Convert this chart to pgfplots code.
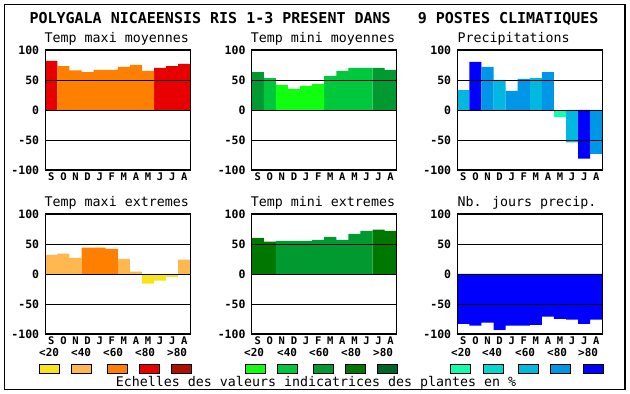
\documentclass[border=0pt]{standalone}
\usepackage{pgfplots}
\pgfplotsset{compat=1.18}
\usepackage{fontspec}
\setmainfont{DejaVu Sans Mono}
\definecolor{yel}{HTML}{F8E418}
\definecolor{lor}{HTML}{FFB850}
\definecolor{ora}{HTML}{FF8000}
\definecolor{tred}{HTML}{E80000}
\definecolor{dred}{HTML}{B01000}
\definecolor{g1}{HTML}{10FF10}
\definecolor{g2}{HTML}{00C83C}
\definecolor{g3}{HTML}{009A30}
\definecolor{g4}{HTML}{007800}
\definecolor{g5}{HTML}{006428}
\definecolor{b1}{HTML}{10FFB0}
\definecolor{b2}{HTML}{00D8D0}
\definecolor{b3}{HTML}{00B8E0}
\definecolor{b4}{HTML}{0096E8}
\definecolor{b5}{HTML}{0000FF}
\newcommand\ticksf{\fontsize{11.5}{12}\selectfont\bfseries}
\newcommand\legf{\fontsize{11}{12}\selectfont\bfseries}
\newcommand\monthf{\fontsize{10.5}{12}\selectfont\bfseries}
\newcommand\titlef{\fontsize{13.3}{15}\selectfont}
\pgfplotsset{
 panel/.style={
  scale only axis, width=145pt, height=120pt,
  xmin=-0.5, xmax=11.5, ymin=-100, ymax=100,
  ytick={-100,-50,0,50,100},
  yticklabels={-100,-50,0,50,100},
  xtick={0,...,11},
  xticklabels={S,O,N,D,J,F,M,A,M,J,J,A},
  major tick length=0pt,
  ymajorgrids, grid style={black, line width=0.9pt},
  axis on top,
  axis line style={black, line width=1.2pt},
  yticklabel style={font=\ticksf, inner sep=0pt, xshift=-6pt, anchor=east},
  xticklabel style={font=\monthf, inner sep=0pt, anchor=north, yshift=-2.5pt},
  anchor=south west,
 },
 cbar/.style={ybar, bar width=1, bar shift=0pt, draw=none, fill=#1},
}
\begin{document}
\begin{tikzpicture}[x=1pt,y=1pt]
\useasboundingbox (0,0) rectangle (630,394);
\fill[white] (0,0) rectangle (630,394);
\draw[line width=1.6pt] (4.5,4.5) rectangle (625,389.5);
\node[anchor=base, inner sep=0] at (314,370.7) {\fontsize{15}{17}\selectfont\bfseries POLYGALA NICAEENSIS RIS 1-3 PRESENT DANS\ \ \ 9 POSTES CLIMATIQUES};
% titles
\node[anchor=base west, inner sep=0] at (44.5,351) {\titlef Temp maxi moyennes};
\node[anchor=base west, inner sep=0] at (250.7,351) {\titlef Temp mini moyennes};
\node[anchor=base west, inner sep=0] at (457.3,351) {\titlef Precipitations};
\node[anchor=base west, inner sep=0] at (44.5,187) {\titlef Temp maxi extremes};
\node[anchor=base west, inner sep=0] at (250.7,187) {\titlef Temp mini extremes};
\node[anchor=base west, inner sep=0] at (457.3,187) {\titlef Nb. jours precip.};
% Panel 1
\begin{axis}[panel, at={(45.3pt,224pt)}]
\addplot[cbar=tred] coordinates {(0,82)(9,70)(10,73)(11,77)};
\addplot[cbar=ora] coordinates {(1,73)(2,66)(3,63)(4,67)(5,67)(6,72)(7,75)(8,65)};
\end{axis}
% Panel 2
\begin{axis}[panel, at={(251.7pt,224pt)}]
\addplot[cbar=g3] coordinates {(0,63)(10,70)(11,67)};
\addplot[cbar=g2] coordinates {(1,53)(6,57)(7,65)(8,70)(9,70)};
\addplot[cbar=g1] coordinates {(2,42)(3,35)(4,40)(5,43)};
\end{axis}
% Panel 3
\begin{axis}[panel, at={(457.3pt,224pt)}]
\addplot[cbar=b3] coordinates {(0,33)(3,50)(6,53)(9,-54)};
\addplot[cbar=b5] coordinates {(1,80)(10,-81)};
\addplot[cbar=b4] coordinates {(2,72)(4,32)(5,52)(7,63)(11,-73)};
\addplot[cbar=b1] coordinates {(8,-12)};
\end{axis}
% Panel 4
\begin{axis}[panel, at={(45.3pt,60pt)}]
\addplot[cbar=lor] coordinates {(0,32)(1,34)(2,27)(6,25)(7,4)(11,24)};
\addplot[cbar=ora] coordinates {(3,44)(4,44)(5,42)};
\addplot[cbar=yel] coordinates {(8,-16)(9,-11)(10,-5)};
\end{axis}
% Panel 5
\begin{axis}[panel, at={(251.7pt,60pt)}]
\addplot[cbar=g4] coordinates {(0,60)(1,54)(10,74)(11,72)};
\addplot[cbar=g3] coordinates {(2,55)(3,55)(4,55)(5,57)(6,62)(7,57)(8,67)(9,72)};
\end{axis}
% Panel 6
\begin{axis}[panel, at={(457.3pt,60pt)}]
\addplot[cbar=b5] coordinates {(0,-83)(1,-86)(2,-81)(3,-93)(4,-86)(5,-86)(6,-85)(7,-71)(8,-75)(9,-76)(10,-83)(11,-76)};
\end{axis}
% legend scales
\foreach \lx/\bx/\lab/\col in {39/39/<20/yel,71/71/<40/lor,103/107/<60/ora,135/139/<80/tred,167/171/>80/dred,
  244/245/<20/g1,277/277/<40/g2,309/313/<60/g3,341/345/<80/g4,373/377/>80/g5,
  451/450/<20/b1,482/483/<40/b2,515/518/<60/b3,547/550/<80/b4,578/583/>80/b5}{
  \node[anchor=base west, inner sep=0] at (\lx,37.3) {\legf \lab};
  \filldraw[fill=\col, draw=black, line width=0.8pt] (\bx,21) rectangle ++(20,9);
}
\node[anchor=base west, inner sep=0] at (115.7,7.5) {\titlef Echelles des valeurs indicatrices des plantes en \%};
\end{tikzpicture}
\end{document}
